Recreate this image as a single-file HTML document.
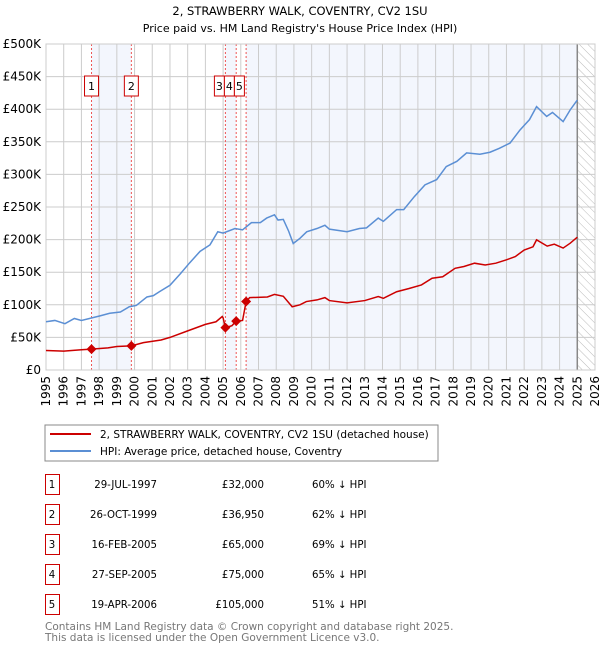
<!DOCTYPE html>
<html><head><meta charset="utf-8"><style>
body{margin:0;background:#fff;width:600px;height:650px;overflow:hidden;font-family:"DejaVu Sans","Liberation Sans",sans-serif}
svg text{font-family:"DejaVu Sans","Liberation Sans",sans-serif}
</style></head><body>
<svg id="c" width="600" height="650" viewBox="0 0 600 650" xmlns="http://www.w3.org/2000/svg">
<defs><pattern id="hatch" width="6" height="6" patternUnits="userSpaceOnUse" patternTransform="rotate(-45)"><line x1="0" y1="0" x2="0" y2="6" stroke="#bbb" stroke-width="1"/></pattern></defs>
<text x="300" y="15" text-anchor="middle" font-size="11.5">2, STRAWBERRY WALK, COVENTRY, CV2 1SU</text>
<text x="300" y="32" text-anchor="middle" font-size="11">Price paid vs. HM Land Registry's House Price Index (HPI)</text>
<g id="plot"></g>
<rect x="45" y="425" width="393" height="36" fill="#fff" stroke="#888"/>
<line x1="50" y1="434" x2="91" y2="434" stroke="#cc0000" stroke-width="2"/>
<text x="100" y="438" font-size="10.5">2, STRAWBERRY WALK, COVENTRY, CV2 1SU (detached house)</text>
<line x1="50" y1="451" x2="91" y2="451" stroke="#5b8fd4" stroke-width="2"/>
<text x="100" y="455" font-size="10.5">HPI: Average price, detached house, Coventry</text>
<g id="table"></g>
<text x="45" y="630" font-size="10.5" fill="#777">Contains HM Land Registry data © Crown copyright and database right 2025.</text>
<text x="45" y="641" font-size="10.5" fill="#777">This data is licensed under the Open Government Licence v3.0.</text>
</svg>
<script>
const hpiYears=[1995,1995.5,1996.07,1996.6,1997,1998.05,1998.6,1999.2,1999.7,2000.1,2000.7,2001.06,2001.4,2002,2002.6,2003.1,2003.7,2004.26,2004.7,2005,2005.67,2006.1,2006.6,2007.1,2007.46,2007.9,2008.1,2008.4,2008.7,2008.96,2009.34,2009.72,2010.3,2010.75,2011,2012,2012.7,2013.1,2013.76,2014.05,2014.8,2015.2,2015.8,2016.4,2017.06,2017.6,2018.2,2018.75,2019.5,2020.07,2020.6,2021.2,2021.76,2022.3,2022.7,2023.27,2023.6,2024.2,2024.6,2025];
const hpiValues=[74,76,71,79,76,83,87,89,97,99,112,114,120,130,148,164,182,192,212,210,217,215,226,226,233,238,230,231,213,194,202,212,217,222,216,212,217,218,233,228,246,246,266,284,292,312,320,333,331,334,340,348,368,384,404,389,395,381,399,414];
const priceYears=[1995,1996,1997,1997.57,1998.5,1999,1999.82,2000.5,2001.5,2002,2003,2004,2004.6,2004.95,2005.0,2005.13,2005.5,2005.74,2006.1,2006.3,2006.5,2007.5,2007.9,2008.4,2008.9,2009.34,2009.7,2010.3,2010.75,2011,2012,2013,2013.76,2014.05,2014.8,2015.5,2016.2,2016.8,2017.4,2018.1,2018.6,2019.2,2019.8,2020.4,2021,2021.5,2022,2022.5,2022.7,2023.3,2023.7,2024.2,2024.6,2025];
const priceValues=[30,29,31,32,34,36,37,42,46,50,60,70,74,82,80,65,68,75,76,105,111,112,116,113,97,100,105,107.5,111,106.5,103,106.5,112.6,110,120,125,130.5,140.7,143,156,158.7,163.8,161,163.8,169,174,184,189,199.6,190,193,187,194.5,203.7];
const saleYears=[1997.57,1999.82,2005.13,2005.74,2006.3];
const saleValues=[32,36.95,65,75,105];
const saleLabels=["1","2","3","4","5"];
const saleDates=["29-JUL-1997","26-OCT-1999","16-FEB-2005","27-SEP-2005","19-APR-2006"];
const salePrices=["£32,000","£36,950","£65,000","£75,000","£105,000"];
const saleHpi=["60% ↓ HPI","62% ↓ HPI","69% ↓ HPI","65% ↓ HPI","51% ↓ HPI"];
const yTicks=[0,50,100,150,200,250,300,350,400,450,500];
const yTickLabels=["£0","£50K","£100K","£150K","£200K","£250K","£300K","£350K","£400K","£450K","£500K"];
const xTicks=[1995,1996,1997,1998,1999,2000,2001,2002,2003,2004,2005,2006,2007,2008,2009,2010,2011,2012,2013,2014,2015,2016,2017,2018,2019,2020,2021,2022,2023,2024,2025,2026];

const NS="http://www.w3.org/2000/svg";
const X0=46,X1=595,Y0=370,Y1=44;
const x=y=>X0+(y-1995)*(X1-X0)/31;
const yS=v=>Y0-v*(Y0-Y1)/500;
const plot=document.getElementById('plot');
function mk(t,a,p){const e=document.createElementNS(NS,t);for(const k in a)e.setAttribute(k,a[k]);(p||plot).appendChild(e);return e;}
const bands=[[saleYears[0],saleYears[1]],[saleYears[2],saleYears[3]],[saleYears[4],2025]];
bands.forEach((b,i)=>{const r=mk('rect',{x:x(b[0]),y:Y1,width:x(b[1])-x(b[0]),height:Y0-Y1,fill:'#f3f6fd'});

});
const h=mk('rect',{x:x(2025),y:Y1,width:X1-x(2025),height:Y0-Y1,fill:'url(#hatch)'});


yTicks.forEach((v,i)=>{const l=mk('line',{x1:X0,x2:X1,y1:yS(v),y2:yS(v),stroke:'#ccc'});


const t=mk('text',{x:X0-5,y:yS(v)+4,'text-anchor':'end','font-size':12});t.textContent=yTickLabels[i];

});
xTicks.forEach(yr=>{const l=mk('line',{x1:x(yr),x2:x(yr),y1:Y1,y2:Y0,stroke:'#ccc'});


const t=mk('text',{x:0,y:0,'text-anchor':'end','font-size':12,transform:`translate(${x(yr)+4},${Y0+6}) rotate(-90)`});t.textContent=yr;

});
const nl=mk('line',{x1:x(2025),x2:x(2025),y1:Y1,y2:Y0,stroke:'#888','stroke-width':1.5});


saleYears.forEach((s,i)=>{const l=mk('line',{x1:x(s),x2:x(s),y1:Y1,y2:Y0,stroke:'#e55','stroke-dasharray':'2,2','stroke-width':1});


const bxx=i<2?x(s)-7:[x(saleYears[2])-11,x(saleYears[2])-1,x(saleYears[2])+9][i-2];
const bw=i<2?14:10;
const r=mk('rect',{x:bxx,y:76,width:bw,height:20,fill:'#fff',stroke:'#cc0000'});


const t=mk('text',{x:bxx+bw/2,y:90,'text-anchor':'middle','font-size':11});t.textContent=saleLabels[i];

});
mk('rect',{x:X0,y:Y1,width:X1-X0,height:Y0-Y1,fill:'none',stroke:'#ccc'});
const hp=mk('polyline',{points:hpiYears.map((yr,i)=>x(yr)+','+yS(hpiValues[i])).join(' '),fill:'none',stroke:'#5b8fd4','stroke-width':1.5});


const pp=mk('polyline',{points:priceYears.map((yr,i)=>x(yr)+','+yS(priceValues[i])).join(' '),fill:'none',stroke:'#cc0000','stroke-width':1.5});


saleYears.forEach((s,i)=>{const cx=x(s),cy=yS(saleValues[i]);
const d=mk('polygon',{points:`${cx},${cy-5} ${cx+5},${cy} ${cx},${cy+5} ${cx-5},${cy}`,fill:'#cc0000'});

});
const tb=document.getElementById('table');
saleLabels.forEach((lab,i)=>{const cy=484+i*30;
const r=mk('rect',{x:45.5,y:cy-9.5,width:14,height:20,fill:'#fff',stroke:'#cc0000'},tb);


const vals=[[lab,52,'middle'],[saleDates[i],157,'end'],[salePrices[i],264,'end'],[saleHpi[i],312,'start']];
const names=['table-index','table-date','table-price','table-hpi-diff'];
vals.forEach((v,j)=>{const t=mk('text',{x:v[1],y:cy+4,'text-anchor':v[2],'font-size':10.2},tb);t.textContent=v[0];

});});
</script>
</body></html>
